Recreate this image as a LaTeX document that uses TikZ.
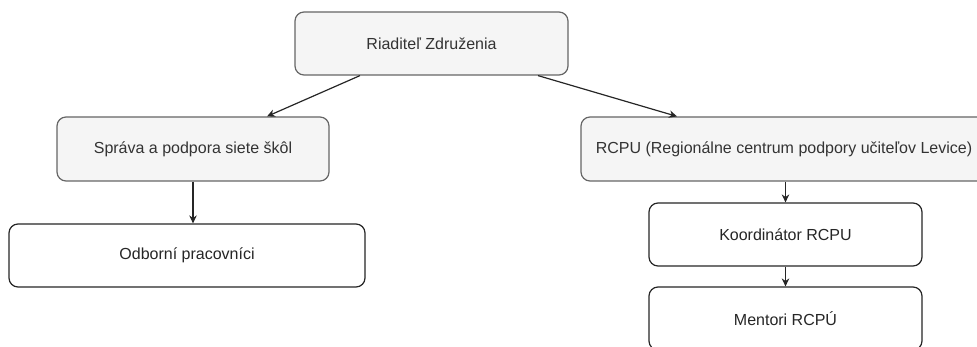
\documentclass[tikz,border=0pt]{standalone}
\usepackage{fontspec}
\setmainfont{Liberation Sans}
\usetikzlibrary{arrows.meta}
\definecolor{grayfill}{HTML}{F5F5F5}
\definecolor{grayline}{HTML}{666666}
\definecolor{txtgray}{HTML}{333333}
\tikzset{
  graybox/.style={draw=grayline, fill=grayfill, rounded corners=9pt, line width=1.2pt, text=txtgray, inner sep=0pt},
  whitebox/.style={draw=black!85, fill=white, rounded corners=9pt, line width=1.2pt, text=black!85, inner sep=0pt},
  conn/.style={draw=black!85, line width=1.2pt, -{Stealth[length=8pt,width=7.5pt]}}
}
\begin{document}
\begin{tikzpicture}[x=1pt,y=-1pt,font=\fontsize{16}{19}\selectfont]
\useasboundingbox (0,0) rectangle (977,347);
\clip (0,0) rectangle (977,347);
\node[graybox, minimum width=273pt, minimum height=63pt] (root) at (431.5,43.5) {Riaditeľ Združenia};
\node[graybox, minimum width=272pt, minimum height=64pt] (sprava) at (193,149) {Správa a podpora siete škôl};
\node[graybox, minimum width=406pt, minimum height=64pt] (rcpu) at (784,149) {RCPU (Regionálne centrum podpory učiteľov Levice)};
\node[whitebox, minimum width=356pt, minimum height=63pt] (odb) at (187,255.5) {Odborní pracovníci};
\node[whitebox, minimum width=273pt, minimum height=63pt] (koord) at (785.5,234.5) {Koordinátor RCPU};
\node[whitebox, minimum width=273pt, minimum height=63pt] (ment) at (785.5,318.5) {Mentori RCPÚ};
\draw[conn] ([xshift=-71.5pt]root.south) -- ([xshift=74pt]sprava.north);
\draw[conn] ([xshift=106.5pt]root.south) -- ([xshift=-107pt]rcpu.north);
\draw[conn] ([xshift=6pt]odb.north |- sprava.south) -- ([xshift=6pt]odb.north);
\draw[conn] (rcpu.south -| koord.north) -- (koord.north);
\draw[conn] (koord.south) -- (ment.north);
\end{tikzpicture}
\end{document}
